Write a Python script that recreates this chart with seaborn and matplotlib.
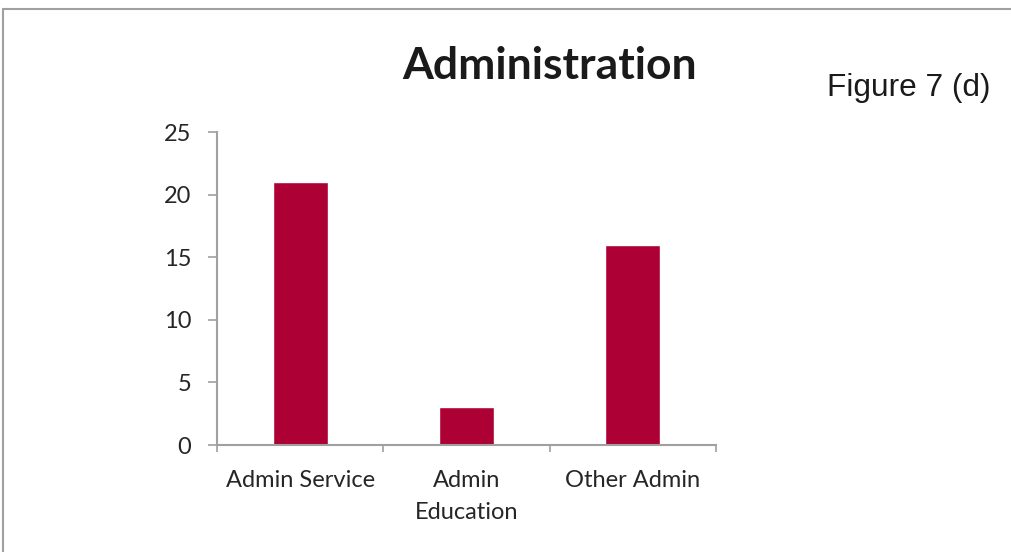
import matplotlib
matplotlib.use("Agg")
import matplotlib.pyplot as plt
from matplotlib.lines import Line2D
import seaborn as sns
import pandas as pd

categories = ["Admin Service", "Admin\nEducation", "Other Admin"]
counts = [21, 3, 16]
y_ticks = [0, 5, 10, 15, 20, 25]

bar_color = "#AD0034"
axis_gray = "#A0A0A0"
text_dark = "#262626"

sns.set_theme(style="white")
plt.rcParams["font.family"] = ["Lato", "DejaVu Sans"]

df = pd.DataFrame({"category": categories, "count": counts})

fig = plt.figure(figsize=(10.11, 5.52), dpi=100)
ax = fig.add_axes([217 / 1011, 1 - 445 / 552, (716 - 217) / 1011, (445 - 132) / 552])

sns.barplot(data=df, x="category", y="count", color=bar_color, width=0.33,
            saturation=1, ax=ax)

ax.set_xlim(-0.5, 2.5)
ax.set_ylim(0, 25)
ax.set_yticks(y_ticks)
ax.set_xlabel("")
ax.set_ylabel("")

for side in ["top", "right"]:
    ax.spines[side].set_visible(False)
for side in ["left", "bottom"]:
    ax.spines[side].set_color(axis_gray)
    ax.spines[side].set_linewidth(1.5)

ax.tick_params(axis="y", direction="out", length=6.5, width=1.2, color=axis_gray,
               labelsize=17, labelcolor=text_dark, pad=12, left=True)
ax.tick_params(axis="x", which="major", length=0, labelsize=17,
               labelcolor=text_dark, pad=18)
ax.set_xticks([-0.5, 0.5, 1.5, 2.5], minor=True)
ax.tick_params(axis="x", which="minor", direction="out", length=5, width=1.2,
               color=axis_gray, bottom=True)
for lbl in ax.get_xticklabels():
    lbl.set_linespacing(1.65)
    lbl.set_verticalalignment("top")

fig.text(550 / 1011, 1 - 79 / 552, "Administration", ha="center",
         va="baseline", fontsize=32, fontweight="bold", color="#1a1a1a")
fig.text(827 / 1011, 1 - 96 / 552, "Figure 7 (d)", ha="left", va="baseline",
         fontsize=22.8, family=["Liberation Sans", "DejaVu Sans"], color="#1a1a1a")

# Frame around the chart area
fig.add_artist(Line2D([3 / 1011, 1.0], [1 - 9 / 552, 1 - 9 / 552],
                      transform=fig.transFigure, color=axis_gray, lw=1.5))
fig.add_artist(Line2D([3 / 1011, 3 / 1011], [0.0, 1 - 9 / 552],
                      transform=fig.transFigure, color=axis_gray, lw=1.5))

fig.savefig("out.png", dpi=100)
